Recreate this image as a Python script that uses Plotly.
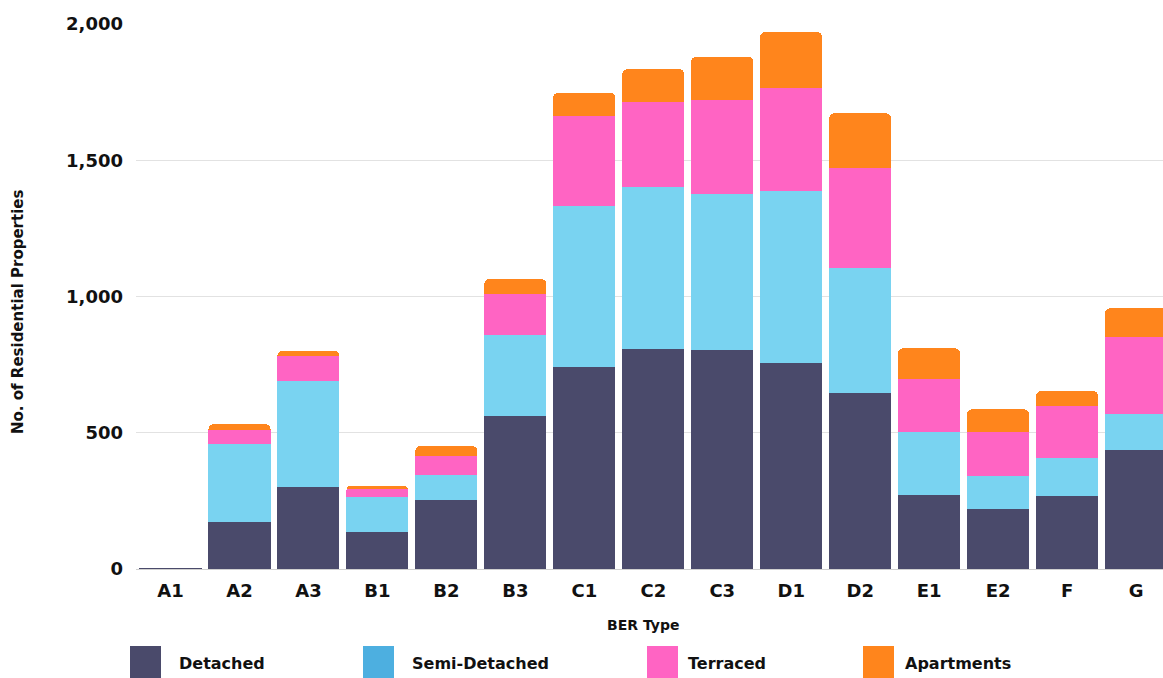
import plotly.graph_objects as go

# BER rating categories and property counts by dwelling type
ber_types = ["A1", "A2", "A3", "B1", "B2", "B3", "C1", "C2", "C3", "D1", "D2", "E1", "E2", "F", "G"]
detached = [3, 171, 300, 135, 253, 563, 742, 807, 803, 757, 647, 272, 220, 269, 437]
semi_detached = [0, 287, 390, 128, 92, 295, 591, 596, 572, 630, 459, 230, 121, 140, 131]
terraced = [0, 52, 92, 29, 71, 150, 330, 312, 346, 378, 364, 195, 161, 189, 282]
apartments = [0, 21, 19, 14, 35, 56, 85, 119, 159, 205, 202, 113, 84, 55, 107]

series_names = ["Detached", "Semi-Detached", "Terraced", "Apartments"]
bar_colors = ["#4a4a6b", "#79d3f1", "#ff64c3", "#ff851c"]
legend_colors = ["#4a4a6b", "#4dafe0", "#ff64c3", "#ff851c"]
y_ticks = [0, 500, 1000, 1500, 2000]
y_tick_text = ["0", "500", "1,000", "1,500", "2,000"]

FONT = "DejaVu Sans"
W, H = 1163, 678
ML, MR, MT, MB = 136, 0, 24, 109
PW, PH = W - ML - MR, H - MT - MB


def px_x(px):
    return (px - ML) / PW


def px_y(py):
    return (H - MB - py) / PH


fig = go.Figure()
for name, vals, col in zip(series_names, [detached, semi_detached, terraced, apartments], bar_colors):
    fig.add_trace(go.Bar(
        x=ber_types, y=vals, name=name,
        marker=dict(color=col, line=dict(width=0)),
        showlegend=False,
    ))

# Custom legend: large square swatches with bold labels
legend_x = [130, 363, 647, 863]
label_x = [177, 410, 686, 903]
for name, col, sx, lx in zip(series_names, legend_colors, legend_x, label_x):
    fig.add_shape(type="rect", xref="paper", yref="paper",
                  x0=px_x(sx), x1=px_x(sx + 31), y0=px_y(646), y1=px_y(690),
                  fillcolor=col, line=dict(width=0), layer="above")
    fig.add_annotation(xref="paper", yref="paper", x=px_x(lx), y=px_y(663),
                       text=name, showarrow=False, xanchor="left", yanchor="middle",
                       font=dict(family=FONT, size=16, color="#111111", weight="bold"))

# Axis titles
fig.add_annotation(xref="paper", yref="paper", x=px_x(643), y=px_y(625),
                   text="BER Type", showarrow=False, xanchor="center", yanchor="middle",
                   font=dict(family=FONT, size=14, color="#111111", weight="bold"))
fig.add_annotation(xref="paper", yref="paper", x=px_x(18), y=px_y(312),
                   text="No. of Residential Properties", showarrow=False, textangle=-90,
                   xanchor="center", yanchor="middle",
                   font=dict(family=FONT, size=15, color="#111111", weight="bold"))

fig.update_layout(
    width=W, height=H,
    margin=dict(l=ML, r=MR, t=MT, b=MB, pad=0),
    barmode="stack", bargap=0.1, barcornerradius=5,
    plot_bgcolor="white", paper_bgcolor="white",
    font=dict(family=FONT, color="#111111"),
    xaxis=dict(
        range=[-0.5, 14.39], showgrid=False, showline=False, ticks="",
        tickfont=dict(family=FONT, size=18, color="#111111", weight="bold"),
        ticklabelstandoff=9, fixedrange=True,
    ),
    yaxis=dict(
        range=[0, 2000], tickvals=y_ticks, ticktext=y_tick_text,
        showgrid=True, gridcolor="#e2e2e2", gridwidth=1,
        zeroline=True, zerolinecolor="#d0d0d0", zerolinewidth=1,
        showline=False, ticks="",
        tickfont=dict(family=FONT, size=18, color="#111111", weight="bold"),
        ticklabelstandoff=12, fixedrange=True,
    ),
)

fig.write_html("out.html")
